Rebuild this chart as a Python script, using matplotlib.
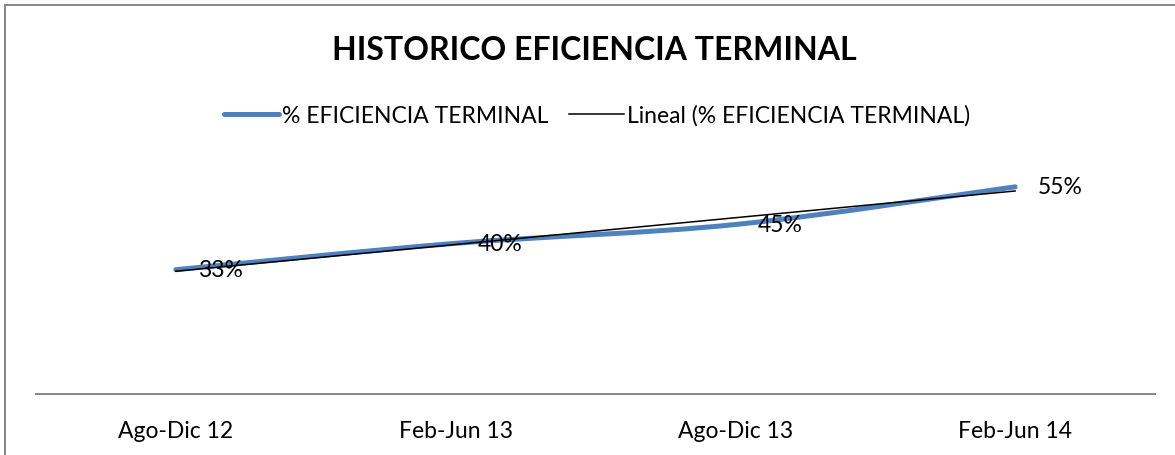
import numpy as np
import matplotlib
matplotlib.use('Agg')
import matplotlib.pyplot as plt
from matplotlib.path import Path
from matplotlib.patches import PathPatch, Rectangle
from matplotlib.lines import Line2D

# datos de la grafica
periodos = ['Ago-Dic 12', 'Feb-Jun 13', 'Ago-Dic 13', 'Feb-Jun 14']
eficiencia = [0.33, 0.40, 0.45, 0.55]
etiquetas = ['33%', '40%', '45%', '55%']

plt.rcParams['font.family'] = ['Lato', 'DejaVu Sans']

AZUL = '#4F81BD'
GRIS = '#868686'
FS = 16.5

W, H = 1175, 456
fig = plt.figure(figsize=(W / 100, H / 100), dpi=100)
ax = fig.add_axes([36 / W, 1 - 395 / H, (1155 - 36) / W, (395 - 169) / H])

x = np.arange(len(periodos))
y = np.array(eficiencia)

# linea suavizada (curva tipo Catmull-Rom como en Excel)
verts = [(x[0], y[0])]
codes = [Path.MOVETO]
for i in range(len(x) - 1):
    p0 = (x[max(i - 1, 0)], y[max(i - 1, 0)])
    p1 = (x[i], y[i])
    p2 = (x[i + 1], y[i + 1])
    p3 = (x[min(i + 2, len(x) - 1)], y[min(i + 2, len(x) - 1)])
    c1 = (p1[0] + (p2[0] - p0[0]) / 6, p1[1] + (p2[1] - p0[1]) / 6)
    c2 = (p2[0] - (p3[0] - p1[0]) / 6, p2[1] - (p3[1] - p1[1]) / 6)
    verts += [c1, c2, p2]
    codes += [Path.CURVE4] * 3
ax.add_patch(PathPatch(Path(verts, codes), facecolor='none', edgecolor=AZUL,
                       lw=3.6, capstyle='round', joinstyle='round', zorder=2))

# linea de tendencia lineal
m, b = np.polyfit(x, y, 1)
ax.plot(x, m * x + b, color='black', lw=1.1, zorder=3)

# etiquetas de datos
for xi, yi, t in zip(x, y, etiquetas):
    ax.annotate(t, (xi, yi), xytext=(16, 0), textcoords='offset points',
                ha='left', va='center', fontsize=FS, zorder=4)

ax.set_xlim(-0.5, len(periodos) - 0.5)
ax.set_ylim(0, 0.6)
ax.set_xticks(x)
ax.set_xticklabels(periodos, fontsize=FS)
ax.tick_params(axis='x', length=0, pad=19)
ax.set_yticks([])
for s in ['top', 'right', 'left']:
    ax.spines[s].set_visible(False)
ax.spines['bottom'].set_color(GRIS)
ax.spines['bottom'].set_linewidth(1.4)

fig.text(594 / W, 1 - 51 / H, 'HISTORICO EFICIENCIA TERMINAL', ha='center',
         va='center', fontsize=23, fontweight='bold')

handles = [Line2D([], [], color=AZUL, lw=3.6, solid_capstyle='round'),
           Line2D([], [], color='black', lw=1.1)]
fig.legend(handles, ['% EFICIENCIA TERMINAL', 'Lineal (% EFICIENCIA TERMINAL)'],
           loc='center', bbox_to_anchor=(597 / W, 1 - 116 / H), ncol=2,
           frameon=False, fontsize=FS, handlelength=2.4, handletextpad=0.15,
           columnspacing=0.9)

# borde del area del grafico
fig.add_artist(Rectangle((5 / W, -0.2), 1.2, 1.2 - 5.5 / H,
                         transform=fig.transFigure, fill=False,
                         edgecolor=GRIS, lw=1.4))

fig.savefig('out.png', dpi=100)
